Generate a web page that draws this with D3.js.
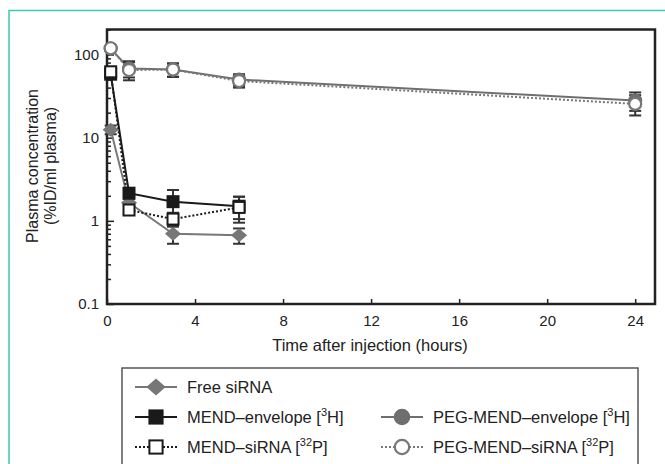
<!DOCTYPE html>
<html>
<head>
<meta charset="utf-8">
<script src="https://cdn.jsdelivr.net/npm/d3@7"></script>
<style>
  body { margin: 0; background: #fff; }
  text { font-family: "Liberation Sans", Arial, sans-serif; fill: #222; }
</style>
</head>
<body>
<div id="chart"></div>
<script>
// data (hours, %ID/ml plasma)
var shortTimes = [0.167, 1, 3, 6];
var longTimes = [0.167, 1, 3, 6, 24];
var freeSirna = [12.5, 1.65, 0.70, 0.67];
var freeSirnaSd = [1.5, 0.2, 0.17, 0.14];
var mendEnvelope = [58, 2.15, 1.7, 1.5];
var mendEnvelopeSd = [6, 0.3, 0.65, 0.45];
var mendSirna = [62, 1.35, 1.05, 1.45];
var mendSirnaSd = [6, 0.15, 0.2, 0.5];
var pegEnvelope = [118, 68, 66, 50, 28];
var pegEnvelopeSd = [8, 15, 12, 8, 7];
var pegSirna = [119, 65, 66, 48, 25.5];
var pegSirnaSd = [8, 16, 12, 8, 7];
var xTicks = [0, 4, 8, 12, 16, 20, 24];
var yTicks = [0.1, 1, 10, 100];

var svgWidth = 665;
var svgHeight = 464;
var margin = { top: 29.5, right: 10, bottom: 160, left: 107 };
var width = 655 - margin.left;
var height = 304 - margin.top;

var svg = d3.select("#chart")
    .append("svg")
    .attr("width", svgWidth)
    .attr("height", svgHeight);

// teal page frame
svg.append("path")
    .attr("d", "M9,470 L9,10.5 L670,10.5")
    .attr("fill", "none")
    .attr("stroke", "#3cc8b6")
    .attr("stroke-width", 1.5);

var chartGroup = svg.append("g")
    .attr("transform", `translate(${margin.left}, ${margin.top})`);

var x = d3.scaleLinear().domain([0, 24.9]).range([0, width]);
var y = d3.scaleLog().domain([0.1, 200]).range([height, 0]);

// ** axes, ticks pointing inward **
var bottomAxis = d3.axisBottom(x).tickValues(xTicks).tickSize(-5).tickPadding(11);
var leftAxis = d3.axisLeft(y).tickValues(yTicks).tickSize(-7).tickPadding(8)
    .tickFormat(d => d < 1 ? "0.1" : d3.format("d")(d));
var minor = [];
[0.1, 1, 10, 100].forEach(function (dec) {
  for (var k = 2; k <= 9; k++) {
    if (dec * k <= 200) minor.push(dec * k);
  }
});
var minorAxis = d3.axisLeft(y).tickValues(minor).tickSize(-4).tickFormat("");

var gx = chartGroup.append("g")
    .attr("transform", `translate(0, ${height})`)
    .call(bottomAxis);
var gy = chartGroup.append("g").call(leftAxis);
var gm = chartGroup.append("g").call(minorAxis);
[gx, gy, gm].forEach(function (g) {
  g.select(".domain").remove();
  g.selectAll("line").attr("stroke", "#222").attr("stroke-width", 1.5);
  g.selectAll("text").style("font-size", "15px").attr("fill", "#222");
});

// plot box
chartGroup.append("rect")
    .attr("width", width)
    .attr("height", height)
    .attr("fill", "none")
    .attr("stroke", "#222")
    .attr("stroke-width", 2.5);

// ** series **
var series = [
  { name: "free", t: shortTimes, v: freeSirna, sd: freeSirnaSd, color: "#777", dash: null, marker: "diamond", fill: "#777" },
  { name: "pegEnv", t: longTimes, v: pegEnvelope, sd: pegEnvelopeSd, color: "#6f6f6f", dash: null, marker: "circle", fill: "#6f6f6f" },
  { name: "mendEnv", t: shortTimes, v: mendEnvelope, sd: mendEnvelopeSd, color: "#1a1a1a", dash: null, marker: "square", fill: "#1a1a1a" },
  { name: "mendSirna", t: shortTimes, v: mendSirna, sd: mendSirnaSd, color: "#1a1a1a", dash: "2,2", marker: "square", fill: "#fff" },
  { name: "pegSirna", t: longTimes, v: pegSirna, sd: pegSirnaSd, color: "#777", dash: "2,2", marker: "circle", fill: "#fff" }
];

var line = d3.line().x(d => x(d[0])).y(d => y(d[1]));

series.forEach(function (s) {
  var pts = s.t.map((t, i) => [t, s.v[i], s.sd[i]]);
  chartGroup.append("path")
      .datum(pts)
      .attr("d", line)
      .attr("fill", "none")
      .attr("stroke", s.color)
      .attr("stroke-width", 2)
      .attr("stroke-dasharray", s.dash);
  s.pts = pts;
});

// error bars
series.forEach(function (s) {
  var eb = chartGroup.append("g").attr("stroke", "#333").attr("stroke-width", 2);
  s.pts.forEach(function (p) {
    var cx = x(p[0]);
    var top = y(p[1] + p[2]);
    var bot = y(Math.max(p[1] - p[2], 0.11));
    eb.append("line").attr("x1", cx).attr("x2", cx).attr("y1", top).attr("y2", bot);
    eb.append("line").attr("x1", cx - 6).attr("x2", cx + 6).attr("y1", top).attr("y2", top);
    eb.append("line").attr("x1", cx - 6).attr("x2", cx + 6).attr("y1", bot).attr("y2", bot);
  });
});

function drawMarker(g, s, cx, cy, k) {
  k = k || 1;
  if (s.marker === "diamond") {
    var w = 7 * k * 1.15, h = 7 * k;
    g.append("path")
        .attr("d", `M${cx},${cy - h} L${cx + w},${cy} L${cx},${cy + h} L${cx - w},${cy} Z`)
        .attr("fill", s.fill);
  } else if (s.marker === "square") {
    var a = 5.5 * k;
    g.append("rect")
        .attr("x", cx - a).attr("y", cy - a)
        .attr("width", 2 * a).attr("height", 2 * a)
        .attr("fill", s.fill)
        .attr("stroke", "#1a1a1a").attr("stroke-width", 2);
  } else {
    g.append("circle")
        .attr("cx", cx).attr("cy", cy).attr("r", 6 * k)
        .attr("fill", s.fill)
        .attr("stroke", s.color).attr("stroke-width", 2.2);
  }
}

series.forEach(function (s) {
  var g = chartGroup.append("g");
  s.pts.forEach(p => drawMarker(g, s, x(p[0]), y(p[1])));
});

// ** axis labels **
svg.append("text")
    .attr("x", 370).attr("y", 351)
    .attr("text-anchor", "middle")
    .style("font-size", "16.5px")
    .text("Time after injection (hours)");
svg.append("text")
    .attr("transform", "translate(38, 166) rotate(-90)")
    .attr("text-anchor", "middle")
    .style("font-size", "16px")
    .text("Plasma concentration");
svg.append("text")
    .attr("transform", "translate(56, 166) rotate(-90)")
    .attr("text-anchor", "middle")
    .style("font-size", "16px")
    .text("(%ID/ml plasma)");

// ** legend **
svg.append("rect")
    .attr("x", 122).attr("y", 368)
    .attr("width", 516).attr("height", 120)
    .attr("fill", "none")
    .attr("stroke", "#555")
    .attr("stroke-width", 1.5);

var legendItems = [
  { s: series[0], col: 0, row: 0, label: ["Free siRNA"] },
  { s: series[2], col: 0, row: 1, label: ["MEND\u2013envelope [", "3", "H]"] },
  { s: series[3], col: 0, row: 2, label: ["MEND\u2013siRNA [", "32", "P]"] },
  { s: series[1], col: 1, row: 1, label: ["PEG-MEND\u2013envelope [", "3", "H]"] },
  { s: series[4], col: 1, row: 2, label: ["PEG-MEND\u2013siRNA [", "32", "P]"] }
];
var colX = [135, 381];
var rowY = [387, 417, 447];

legendItems.forEach(function (it) {
  var lx = colX[it.col], ly = rowY[it.row];
  var g = svg.append("g");
  g.append("line")
      .attr("x1", lx).attr("x2", lx + 42)
      .attr("y1", ly).attr("y2", ly)
      .attr("stroke", it.s.color)
      .attr("stroke-width", 2.2)
      .attr("stroke-dasharray", it.s.dash);
  drawMarker(g, it.s, lx + 21, ly, 1.2);
  var t = g.append("text")
      .attr("x", lx + 52).attr("y", ly + 6)
      .style("font-size", "16.5px");
  t.append("tspan").text(it.label[0]);
  if (it.label.length > 1) {
    t.append("tspan").attr("dy", -7).style("font-size", "11px").text(it.label[1]);
    t.append("tspan").attr("dy", 7).text(it.label[2]);
  }
});
</script>
</body>
</html>
